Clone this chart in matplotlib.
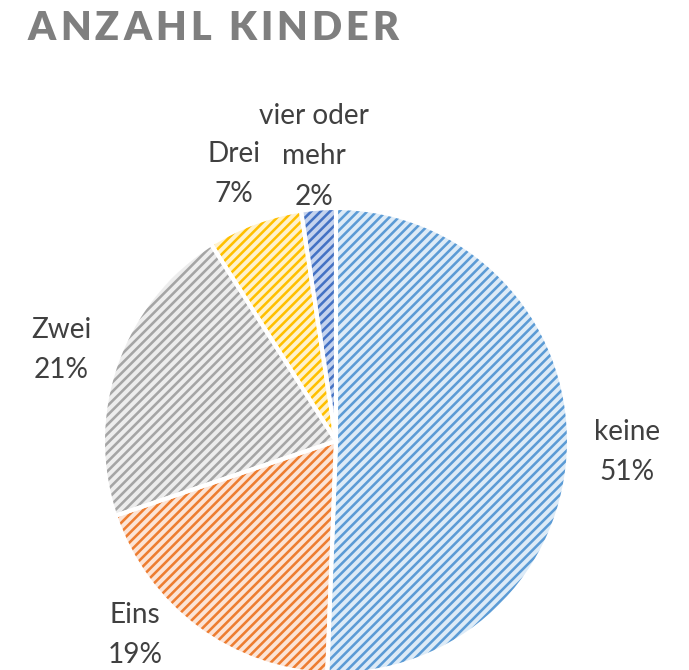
import numpy as np
import matplotlib.pyplot as plt

categories = ['keine', 'Eins', 'Zwei', 'Drei', 'vier oder\nmehr']
shares = [50.6, 19.2, 21.2, 6.6, 2.4]
pct_labels = ['51%', '19%', '21%', '7%', '2%']
title = 'ANZAHL KINDER'

hatch_colors = ['#5B9BD5', '#ED7D31', '#A5A5A5', '#FFC000', '#4472C4']
fill_colors = ['#DDEBF7', '#FCE4D6', '#EDEDED', '#FFF2CC', '#C5D3EE']

W, H, DPI = 689, 670, 84
plt.rcParams['font.family'] = ['Lato', 'DejaVu Sans']
plt.rcParams['hatch.linewidth'] = 2.2

fig = plt.figure(figsize=(W / DPI, H / DPI), dpi=DPI)

# pie centre / radius in pixels (y from top)
cx, cy, r = 336, 441, 233
ax = fig.add_axes([(cx - r) / W, (H - cy - r) / H, 2 * r / W, 2 * r / H])

labels = [f'{c}\n{p}' for c, p in zip(categories, pct_labels)]
wedges, texts = ax.pie(shares, startangle=90, counterclock=False,
                       labels=labels, labeldistance=1.25,
                       wedgeprops=dict(linewidth=0),
                       textprops=dict(fontsize=24, color='#404040',
                                      linespacing=1.68))
for w, hc, fc in zip(wedges, hatch_colors, fill_colors):
    w.set_facecolor(fc)
    w.set_edgecolor(hc)
    w.set_hatch('///')
    w.set_linewidth(0)

# white separators between slices
ax.pie(shares, startangle=90, counterclock=False, colors=['none'] * len(shares),
       wedgeprops=dict(edgecolor='white', linewidth=3.5, fill=False))

for t in texts:
    t.set_ha('center')
    t.set_va('center')
    x, y = t.get_position()
    t.set_position((x, y - 0.025))
# Eins label is pushed up because the pie runs off the bottom
ang = np.deg2rad(224)
texts[1].set_position((1.2 * np.cos(ang), 1.2 * np.sin(ang)))

ax.set_xlim(-1, 1)
ax.set_ylim(-1, 1)
ax.axis('off')

# letter-spaced title, placed char by char
rend = fig.canvas.get_renderer()
tkw = dict(fontsize=34, fontweight='heavy', color='#7F7F7F')

def width(s):
    t = fig.text(0, 0, s, **tkw)
    wd = t.get_window_extent(rend).width
    t.remove()
    return wd

x0, x1, base = 28, 398, 40
natural = width(title)
track = (x1 - x0 - natural) / (len(title) - 1)
for i, ch in enumerate(title):
    if ch == ' ':
        continue
    xpos = x0 + width(title[:i + 1]) - width(ch) + i * track
    fig.text(xpos / W, 1 - base / H, ch, ha='left', va='baseline', **tkw)

fig.savefig('out.png', dpi=DPI)
